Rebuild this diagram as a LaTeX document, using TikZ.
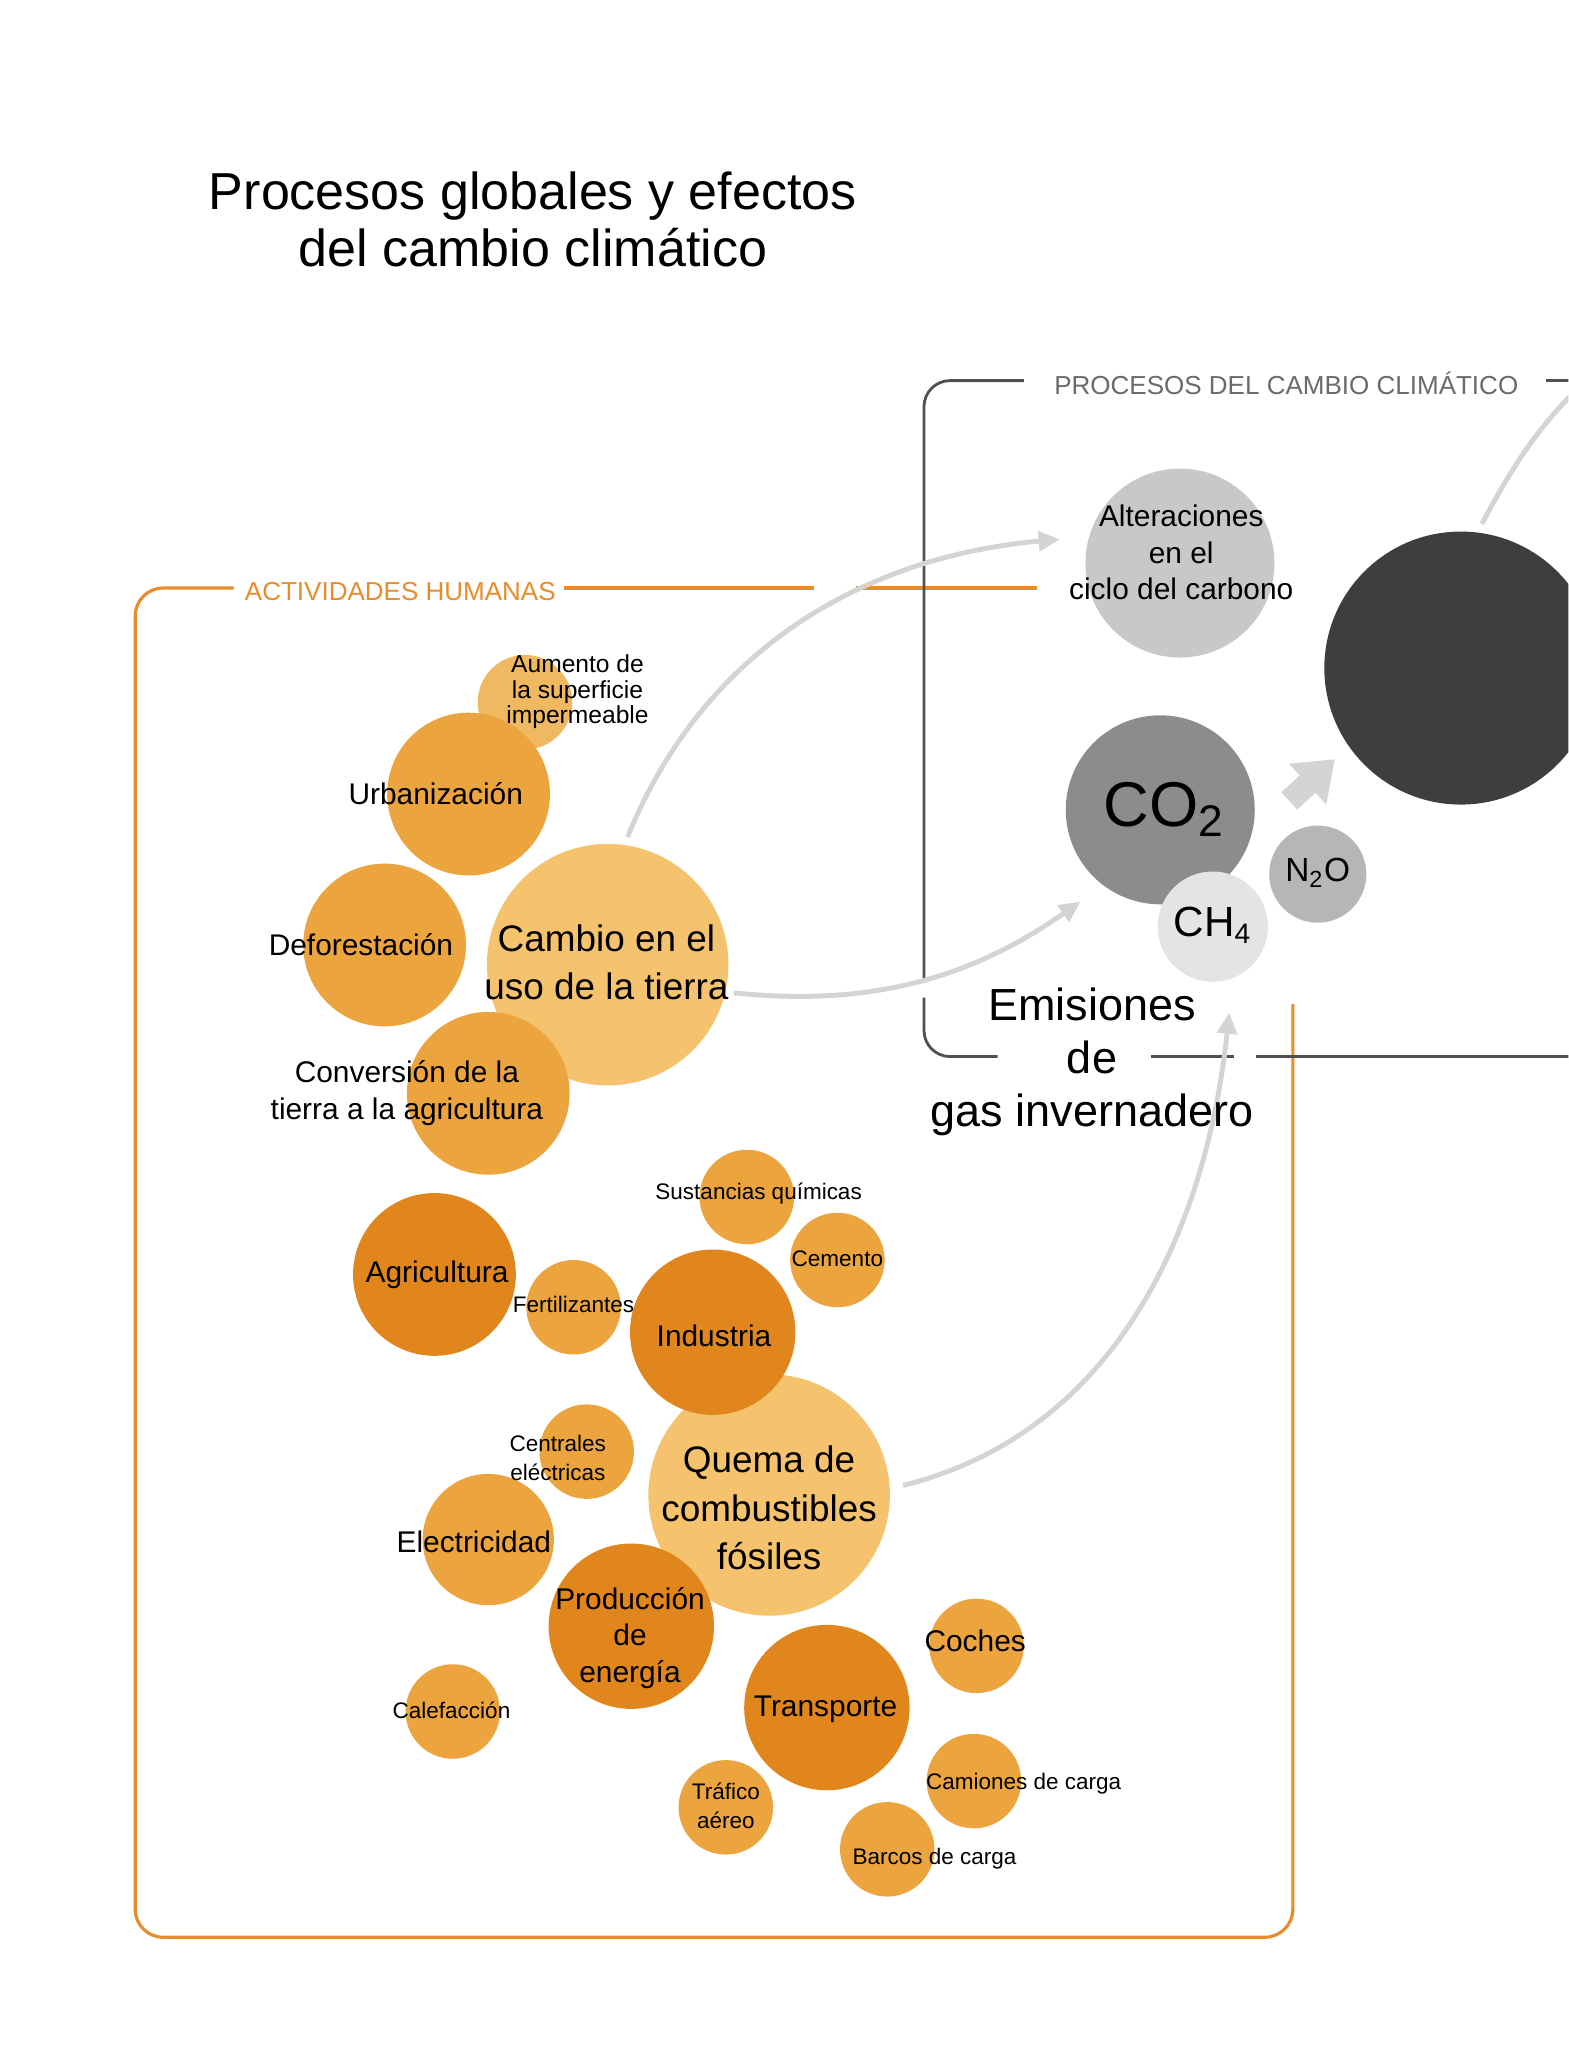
\documentclass[tikz,border=0pt]{standalone}
\usepackage{fontspec}
\setmainfont{Liberation Sans}
\usetikzlibrary{arrows.meta}
\definecolor{OrgDark}{RGB}{224,134,28}
\definecolor{OrgMid}{RGB}{236,164,62}
\definecolor{OrgLight}{RGB}{245,195,110}
\definecolor{OrgPale}{RGB}{241,184,98}
\definecolor{FrameOrg}{RGB}{230,140,45}
\definecolor{FrameGry}{RGB}{80,80,80}
\definecolor{FlowClr}{RGB}{212,212,212}
\definecolor{GasCO}{RGB}{140,140,140}
\definecolor{GasCH}{RGB}{228,228,228}
\definecolor{GasNO}{RGB}{182,182,182}
\definecolor{AltClr}{RGB}{200,200,200}
\definecolor{DarkBall}{RGB}{62,62,62}
\newcommand\upx{0.013122cm}

\tikzset{
  bub/.style={circle,inner sep=0pt,minimum size=2*#1*\upx},
  lblBig/.style={font=\fontsize{10.5}{13.8}\selectfont,align=center,inner sep=0pt},
  lblMid/.style={font=\fontsize{8.5}{10.4}\selectfont,align=center,inner sep=0pt},
  lblSml/.style={font=\fontsize{6.4}{8.3}\selectfont,align=center,inner sep=0pt},
  frameO/.style={draw=FrameOrg,line width=0.9pt},
  frameG/.style={draw=FrameGry,line width=0.8pt},
  flow/.style={draw=FlowClr,line width=1.4pt,-{Triangle[length=6pt,width=5.6pt]}},
  fatflow/.style={draw=FlowClr,line width=6.7pt,-{Triangle[length=10.5pt,width=15pt]}}
}

\begin{document}
\begin{tikzpicture}[x=0.013122cm,y=-0.013122cm]
\path[use as bounding box,clip] (0,0) rectangle (1195,1568);

% title
\node[font=\fontsize{14.8}{16.2}\selectfont,align=center,inner sep=0pt] (title) at (406,167)
  {Procesos globales y efectos\\del cambio clim\'atico};

% frame of the human activities
\draw[frameO,rounded corners=0.28cm] (178,448) -- (103,448) -- (103,1476) -- (985,1476) -- (985,765);
\draw[frameO] (430,448) -- (620,448) (652,448) -- (790,448);
\node[font=\fontsize{7.4}{9}\selectfont,text=FrameOrg,inner sep=0pt] (hum) at (305,451) {ACTIVIDADES HUMANAS};

% frame of the climate processes
\draw[frameG,rounded corners=0.26cm] (780,290) -- (704,290) -- (704,745);
\draw[frameG,rounded corners=0.26cm] (704,760) -- (704,805) -- (760,805);
\draw[frameG] (877,805) -- (940,805) (957,805) -- (1200,805) (1178,290) -- (1200,290);
\node[font=\fontsize{7.4}{9}\selectfont,text=FrameGry!85,inner sep=0pt] (proc) at (980,292) {PROCESOS DEL CAMBIO CLIM\'ATICO};

% bubbles: human activities
\node[bub=92,fill=OrgLight] (cam) at (463,735) {};
\node[bub=92,fill=OrgLight] (quema) at (586,1139) {};
\node[bub=36,fill=OrgPale] (aum) at (400,535) {};
\node[bub=62,fill=OrgMid] (urb) at (357,605) {};
\node[bub=62,fill=OrgMid] (def) at (293,720) {};
\node[bub=62,fill=OrgMid] (conv) at (372,833) {};
\node[bub=62,fill=OrgDark] (agri) at (331,971) {};
\node[bub=36,fill=OrgMid] (fert) at (437,996) {};
\node[bub=36,fill=OrgMid] (sust) at (569,912) {};
\node[bub=36,fill=OrgMid] (cem) at (638,960) {};
\node[bub=63,fill=OrgDark] (ind) at (543,1015) {};
\node[bub=36,fill=OrgMid] (cent) at (447,1106) {};
\node[bub=50,fill=OrgMid] (elec) at (372,1173) {};
\node[bub=63,fill=OrgDark] (prod) at (481,1239) {};
\node[bub=36,fill=OrgMid] (calef) at (345,1304) {};
\node[bub=63,fill=OrgDark] (trans) at (630,1301) {};
\node[bub=36,fill=OrgMid] (coch) at (744,1254) {};
\node[bub=36,fill=OrgMid] (cami) at (742,1357) {};
\node[bub=36,fill=OrgMid] (barc) at (676,1409) {};
\node[bub=36,fill=OrgMid] (traf) at (553,1377) {};

% bubbles: climate processes
\node[bub=72,fill=AltClr] (alter) at (899,429) {};
\node[bub=104,fill=DarkBall] (dark) at (1113,509) {};
\node[bub=72,fill=GasCO] (co2) at (884,617) {};
\node[bub=42,fill=GasCH] (ch4) at (924,706) {};
\node[bub=37,fill=GasNO] (n2o) at (1004,666) {};
\coordinate (offpage) at (1225,275);

% flows
\draw[flow,shorten <=6*\upx,shorten >=22*\upx] (cam.82) to[out=68,in=185] (alter.164);
\draw[flow,shorten <=6*\upx,shorten >=21*\upx] (cam.-13) to[out=-6,in=215] (co2.233);
\draw[flow,shorten <=10*\upx,shorten >=26*\upx] (quema.3) to[out=14,in=-96] (ch4.-69);
\draw[flow,shorten <=7*\upx] (dark.83) to[out=62,in=222] (offpage);
\draw[fatflow,shorten <=79*\upx,shorten >=14*\upx] (ch4.north) -- (dark.215);

% labels
\node[font=\fontsize{7}{7.2}\selectfont,align=center,inner sep=0pt] (t-aum) at (440,527) {Aumento de\\la superficie\\impermeable};
\node[lblMid] (t-urb) at (332,605) {Urbanizaci\'on};
\node[lblMid] (t-def) at (275,720) {Deforestaci\'on};
\node[lblBig] (t-cam) at (462,733) {Cambio en el\\uso de la tierra};
\node[lblMid] (t-conv) at (310,833) {Conversi\'on de la\\tierra a la agricultura};
\node[lblMid] (t-agri) at (333,971) {Agricultura};
\node[lblSml] (t-fert) at (437,994) {Fertilizantes};
\node[lblSml] (t-sust) at (578,909) {Sustancias qu\'imicas};
\node[lblSml] (t-cem) at (638,959) {Cemento};
\node[lblMid] (t-ind) at (544,1018) {Industria};
\node[lblSml] (t-cent) at (425,1111) {Centrales\\el\'ectricas};
\node[lblBig] (t-quema) at (586,1149) {Quema de\\combustibles\\f\'osiles};
\node[lblMid] (t-elec) at (361,1175) {Electricidad};
\node[lblMid] (t-prod) at (480,1248) {Producci\'on\\de\\energ\'ia};
\node[lblSml] (t-calef) at (344,1303) {Calefacci\'on};
\node[lblMid] (t-trans) at (629,1302) {Transporte};
\node[lblMid] (t-coch) at (743,1250) {Coches};
\node[lblSml,anchor=west] (t-cami) at (705,1359) {Camiones de carga};
\node[lblSml,anchor=west] (t-barc) at (649,1416) {Barcos de carga};
\node[lblSml] (t-traf) at (553,1376) {Tr\'afico\\a\'ereo};

\node[lblMid] (t-alter) at (900,421) {Alteraciones\\en el\\ciclo del carbono};
\node[font=\fontsize{18}{20}\selectfont,inner sep=0pt] (t-co2) at (887,617) {CO\textsubscript{2}};
\node[font=\fontsize{12}{14}\selectfont,inner sep=0pt] (t-ch4) at (924,705) {CH\textsubscript{4}};
\node[font=\fontsize{9.5}{11}\selectfont,inner sep=0pt] (t-n2o) at (1004,665) {N\textsubscript{2}O};
\node[font=\fontsize{12.8}{15}\selectfont,align=center,inner sep=0pt] (t-emis) at (832,809) {Emisiones\\de\\gas invernadero};
\end{tikzpicture}
\end{document}
